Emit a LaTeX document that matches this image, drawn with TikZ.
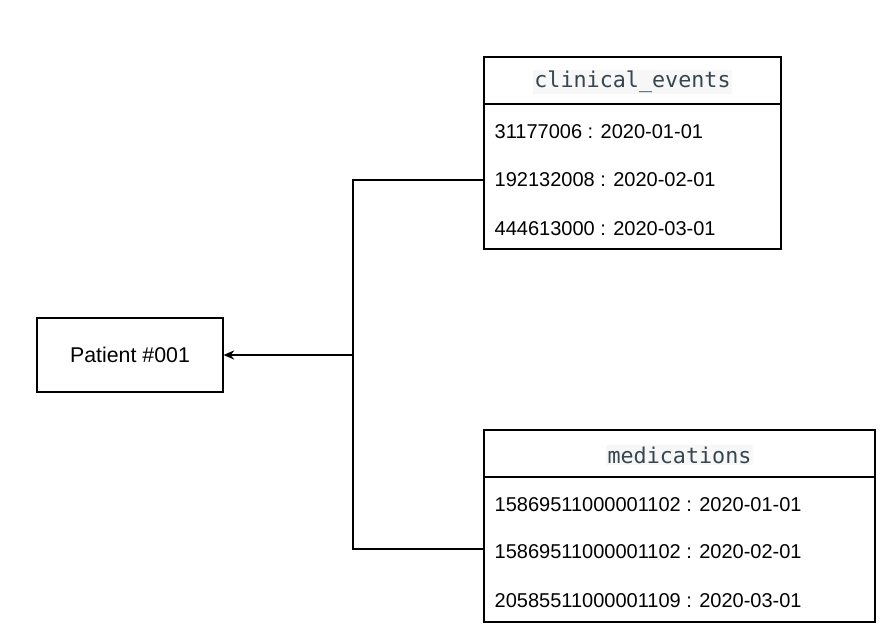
\documentclass[tikz,border=0pt]{standalone}
\usepackage{fontspec}
\setmainfont{Liberation Sans}
\newfontfamily\hdrfont{DejaVu Sans Mono}
\usetikzlibrary{arrows.meta}
\definecolor{hdr}{HTML}{36474F}
\begin{document}
\begin{tikzpicture}[x=0.75pt,y=-0.75pt,
  box/.style={draw,line width=0.9pt,inner sep=0},
  row/.style={anchor=west,font=\fontsize{15}{17}\selectfont},
  head/.style={font=\hdrfont\fontsize{16.3}{18}\selectfont,text=hdr,fill=gray!6,inner sep=1pt},
  conn/.style={line width=0.9pt}]
\useasboundingbox (0,0) rectangle (880,632);
\node[box,minimum width=186*0.75pt,minimum height=74*0.75pt,font=\fontsize{16}{18}\selectfont] (p) at (130,355) {Patient \#001};
% clinical events
\draw[line width=0.9pt] (484,57) rectangle (781,249);
\draw[line width=0.9pt] (484,104) -- (781,104);
\node[head] (ch) at (632.5,82) {clinical\_events};
\node[row] (c1) at (490,132) {31177006 : 2020-01-01};
\node[row] (c2) at (490,180) {192132008 : 2020-02-01};
\node[row] (c3) at (490,229) {444613000 : 2020-03-01};
% medications
\draw[line width=0.9pt] (484,430) rectangle (875,622);
\draw[line width=0.9pt] (484,477) -- (875,477);
\node[head] (mh) at (679.5,455) {medications};
\node[row] (m1) at (490,505) {15869511000001102 : 2020-01-01};
\node[row] (m2) at (490,552) {15869511000001102 : 2020-02-01};
\node[row] (m3) at (490,601) {20585511000001109 : 2020-03-01};
\coordinate (ca) at (484,180);
\coordinate (ma) at (484,549);
\coordinate (j) at (353,355);
\draw[conn] (ca) -- (353,180) -- (353,549) -- (ma);
\draw[conn,-{Stealth[length=8pt,width=7pt]}] (j) -- (p.east);
\end{tikzpicture}
\end{document}
